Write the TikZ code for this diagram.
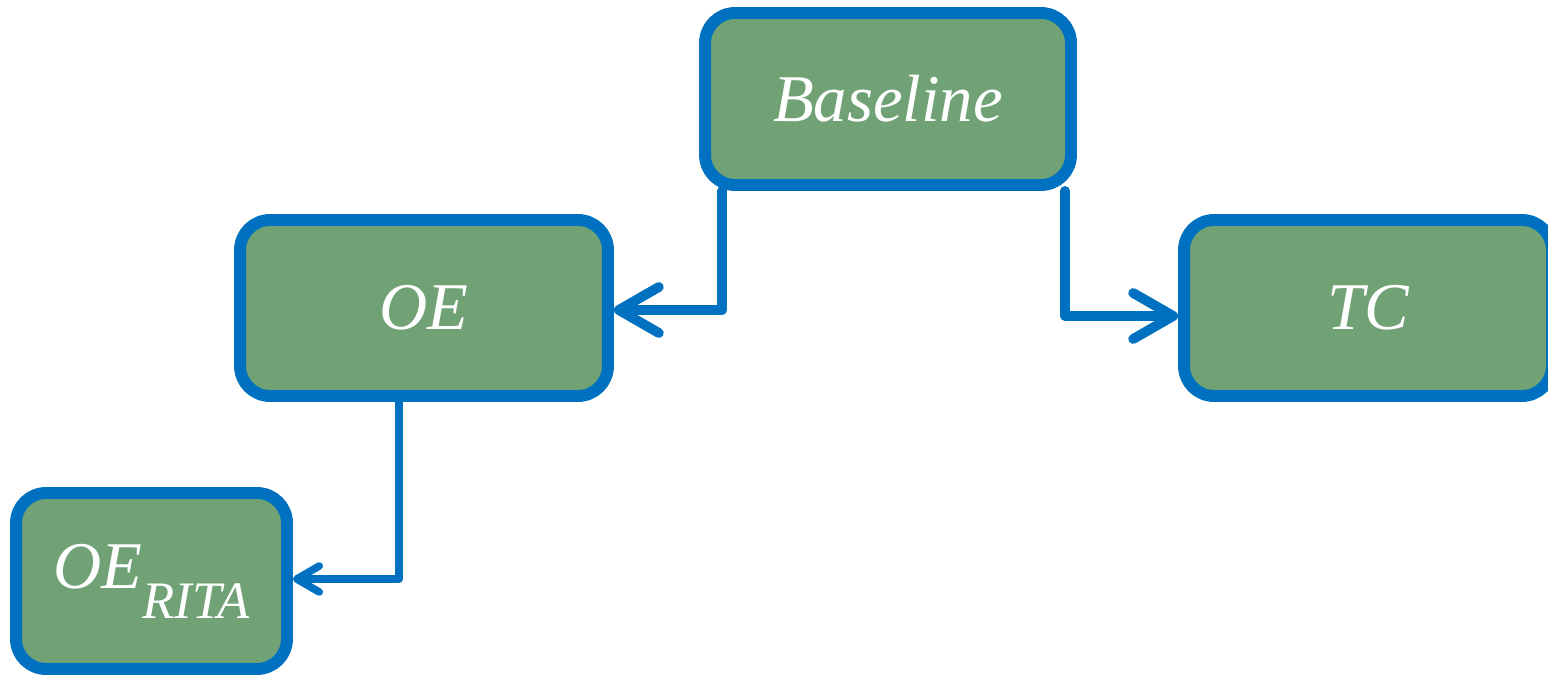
\documentclass[tikz,border=0pt]{standalone}
\usepackage{fontspec}
\setmainfont{Liberation Serif}
\usetikzlibrary{arrows.meta,calc}
\definecolor{boxblue}{HTML}{0070C0}
\definecolor{boxgreen}{HTML}{70A276}
\tikzset{
  stage/.style={draw=boxblue, fill=boxgreen, line width=6.8pt, rounded corners=0.6cm,
    text=white, font=\fontsize{38}{44}\selectfont\itshape, inner sep=0pt},
  conn/.style={draw=boxblue, line width=5.6pt, line join=round, line cap=round,
    -{Straight Barb[length=0.8cm,width=0.92cm,round]}},
  connsmall/.style={draw=boxblue, line width=4.3pt, line join=round, line cap=round,
    -{Straight Barb[length=0.45cm,width=0.52cm,round]}}
}
\begin{document}
\begin{tikzpicture}[x=0.02cm,y=-0.02cm]
  \useasboundingbox (0,0) rectangle (1548,675);
  \begin{scope}
    \clip (0,0) rectangle (1548,675);
    \node[stage, minimum width=7.32cm, minimum height=3.44cm] (base) at (888,99) {Baseline};
    \node[stage, minimum width=7.36cm, minimum height=3.52cm] (oe) at (424,308) {OE};
    \node[stage, minimum width=7.36cm, minimum height=3.52cm] (tc) at (1368,308) {TC};
    \node[stage, minimum width=5.42cm, minimum height=3.52cm] (rita) at (151.5,581)
      {\raisebox{-0.2em}{OE\raisebox{-0.45em}{\fontsize{30}{32}\selectfont RITA}}};
  \end{scope}
  \coordinate (c1) at (722,0);
  \coordinate (c2) at (1065,0);
  \coordinate (c3) at (399,0);
  \draw[conn] (base.south -| c1) |- ([yshift=-0.04cm]oe.east);
  \draw[conn] (base.south -| c2) |- ([yshift=-0.16cm]tc.west);
  \draw[connsmall] (oe.south -| c3) |- ([yshift=0.04cm]rita.east);
\end{tikzpicture}
\end{document}
